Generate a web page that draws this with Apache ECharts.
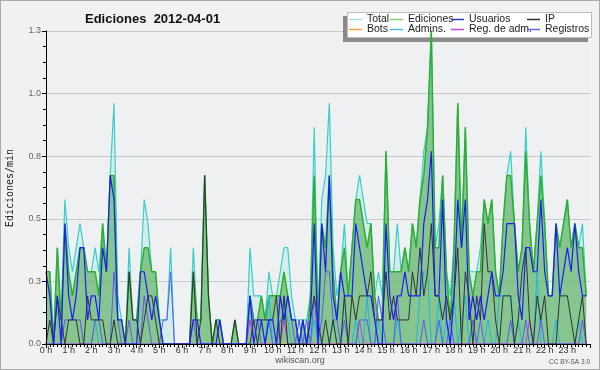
<!DOCTYPE html>
<html><head><meta charset="utf-8">
<script src="https://cdn.jsdelivr.net/npm/echarts@6/dist/echarts.min.js"></script>
<style>html,body{margin:0;padding:0;background:#f1f1f1}#c{width:600px;height:370px}</style>
</head><body><div id="c"></div>
<script>
// 10-minute slots, values in edits per minute
const slotMinutes = 10;
const hourTicks = 60;
const total = [
0.3,0.3,0,0.4,0.1,0.6, 0.4,0.3,0.4,0.5,0.4,0.3, 0.3,0.4,0.3,0.5,0.3,0.7, 1.0,0.2,0.1,0,0.4,0.1,
0.1,0.3,0.6,0.5,0.3,0.3, 0.1,0.1,0.1,0.4,0,0, 0,0,0,0.4,0.1,0.1, 0.7,0.2,0,0.1,0.1,0,
0,0,0.1,0,0,0, 0.4,0.2,0.2,0.2,0.1,0.3, 0.2,0.2,0.3,0.4,0.4,0.2, 0.1,0.1,0.1,0.1,0.2,0.9,
0.1,0.6,0.7,1.0,0.4,0.2, 0.3,0.5,0.2,0.4,0.6,0.7, 0.6,0.5,0.5,0.2,0.3,0.2, 0.8,0.3,0.3,0.5,0.3,0.4,
0.3,0.5,0.4,0.6,0.8,0.9, 1.3,0.4,0.5,0.7,0.3,0.2, 0.4,1.0,0.4,0.9,0.3,0.3, 0.3,0.4,0.6,0.5,0.6,0.3,
0.2,0.5,0.7,0.8,0.5,0.3, 0.4,0.9,0.5,0.3,0.5,0.8, 0.5,0.2,0.2,0.5,0.4,0.5, 0.6,0.4,0.5,0.4,0.5,0.2];
const ediciones = [
0.3,0.3,0,0.4,0.1,0.5, 0.3,0.2,0.3,0.4,0.4,0.3, 0.3,0.3,0.2,0.5,0.3,0.7, 0.7,0.1,0.1,0,0.3,0.1,
0.1,0.3,0.4,0.4,0.3,0.3, 0.1,0,0,0,0,0, 0,0,0,0.3,0.1,0.1, 0.7,0.2,0,0.1,0.1,0,
0,0,0.1,0,0,0, 0.2,0.1,0.1,0.2,0.1,0.2, 0.2,0.2,0.2,0.3,0.2,0.1, 0.1,0,0.1,0,0.2,0.7,
0.1,0.5,0.4,0.7,0.3,0.1, 0.3,0.4,0.2,0.4,0.6,0.6, 0.5,0.4,0.5,0.2,0.1,0.1, 0.8,0.3,0.3,0.3,0.3,0.4,
0.3,0.5,0.4,0.6,0.7,0.9, 1.3,0.4,0.4,0.7,0.3,0.1, 0.4,1.0,0.4,0.9,0.3,0.2, 0.3,0.3,0.6,0.5,0.6,0.3,
0.2,0.5,0.7,0.7,0.5,0.3, 0.4,0.8,0.5,0.3,0.5,0.7, 0.5,0.2,0.2,0.5,0.4,0.5, 0.6,0.4,0.5,0.4,0.4,0.2];
const usuarios = [
0.3,0.2,0,0.2,0,0.5, 0.2,0.1,0.2,0.4,0.4,0.1, 0.2,0.2,0.1,0.4,0.3,0.7, 0.6,0.1,0.1,0,0,0,
0,0.3,0.3,0.2,0.1,0.2, 0.1,0,0,0,0,0, 0,0,0,0.1,0.1,0, 0,0,0,0,0.1,0,
0,0,0,0,0,0, 0.2,0,0.1,0.1,0,0.1, 0.1,0,0.2,0.1,0.2,0.1, 0.1,0,0.1,0,0.1,0.5,
0,0.5,0.3,0.7,0.2,0.1, 0.3,0.2,0.2,0.2,0.5,0.4, 0.3,0.2,0.2,0.1,0,0, 0.5,0.2,0.1,0.2,0.2,0.3,
0.2,0.2,0.2,0.2,0.5,0.6, 0.8,0.2,0.2,0.6,0.1,0, 0.2,0.6,0.4,0.6,0.1,0.2, 0.1,0.2,0.1,0.2,0.3,0.2,
0.2,0.3,0.5,0.5,0.5,0.2, 0.1,0.4,0.4,0.3,0.3,0.6, 0.3,0.2,0.2,0.5,0.2,0.3, 0.4,0.3,0.5,0.3,0.2,0.2];
const ip = [
0,0.1,0,0.2,0.1,0, 0.1,0.1,0.1,0,0,0.2, 0.1,0.1,0.1,0.1,0,0, 0.1,0,0,0,0.3,0.1,
0.1,0,0.1,0.2,0.2,0.1, 0,0,0,0,0,0, 0,0,0,0.3,0,0.1, 0.7,0.2,0,0.1,0,0,
0,0,0.1,0,0,0, 0,0.1,0,0.1,0.1,0.1, 0.1,0.2,0,0.2,0,0, 0,0,0,0,0.1,0.2,
0.1,0,0.1,0,0.1,0, 0,0.2,0,0.2,0.1,0.2, 0.2,0.2,0.3,0.1,0.1,0.1, 0.3,0.1,0.2,0.1,0.1,0.1,
0.1,0.3,0.2,0.4,0.2,0.3, 0.5,0.2,0.2,0.1,0.2,0.1, 0.2,0.4,0,0.3,0.2,0, 0.2,0.1,0.5,0.3,0.3,0.1,
0,0.2,0.2,0.2,0,0.1, 0.3,0.4,0.1,0,0.2,0.1, 0.2,0,0,0,0.2,0.2, 0.2,0.1,0,0.1,0.2,0];
const bots = new Array(144).fill(0);
const admins = [
0,0,0,0,0,0, 0,0,0,0,0,0, 0,0.1,0,0,0,0, 0,0,0,0,0,0,
0,0,0,0,0,0, 0,0,0,0,0,0, 0,0,0,0,0,0, 0,0,0,0,0,0,
0,0,0,0,0,0, 0,0,0,0.1,0,0.2, 0,0,0,0.2,0.1,0, 0,0,0,0,0,0.1,
0,0,0,0,0.1,0, 0,0.2,0,0,0.1,0, 0,0.2,0,0,0.1,0, 0,0,0,0.1,0,0,
0,0,0,0.2,0.3,0.3, 0,0,0.2,0,0.1,0, 0.2,0,0.1,0.2,0,0.1, 0,0,0,0.1,0,0,
0.2,0.2,0.2,0.2,0,0.1, 0,0,0,0,0.3,0, 0,0,0,0.1,0,0, 0,0,0,0.1,0,0];
const regAdm = [
0,0,0,0,0,0, 0,0,0,0,0,0, 0,0,0,0,0,0, 0,0,0,0,0,0,
0,0,0,0,0,0, 0,0,0,0,0,0, 0,0,0,0,0,0, 0,0,0,0,0,0,
0,0,0,0,0,0, 0.1,0,0,0,0,0, 0,0,0,0.1,0,0, 0,0,0,0,0,0,
0,0,0,0,0,0, 0,0,0,0,0,0.1, 0,0,0,0,0,0, 0,0,0,0,0,0,
0,0,0,0,0,0, 0,0,0,0,0,0, 0,0,0,0,0,0, 0,0,0,0,0,0,
0,0,0,0,0,0, 0,0,0.1,0,0,0, 0,0,0,0,0,0, 0,0,0,0,0,0];
const registros = [
0,0,0,0,0,0.1, 0.1,0.1,0.1,0.1,0,0, 0,0.1,0.1,0,0,0, 0.3,0.1,0,0,0.1,0,
0,0,0.2,0.1,0,0, 0,0.1,0.1,0.3,0,0, 0,0,0,0.1,0,0, 0,0,0,0,0,0,
0,0,0,0,0,0, 0.2,0.1,0.1,0,0,0.1, 0,0,0.1,0.1,0.2,0.1, 0,0.1,0,0.1,0,0.2,
0,0.1,0.3,0.3,0.1,0.1, 0,0.1,0,0,0,0.1, 0.1,0.1,0,0,0.2,0.1, 0,0,0,0.2,0,0,
0,0,0,0,0.1,0, 0,0,0.1,0,0,0.1, 0,0,0,0,0,0.1, 0,0.1,0,0,0,0,
0,0,0,0.1,0,0, 0,0.1,0,0,0,0.1, 0,0,0,0,0,0, 0,0,0,0,0.1,0];

const toXY = arr => arr.map((v, i) => [i * slotMinutes, v]);
const FONT = 'Liberation Sans';

const seriesDefs = [
  {name:'Total', data:total, color:'#38cfcb', legend:'#9fe0dc', width:1.2, area:'rgba(170,230,222,0.38)'},
  {name:'Ediciones', data:ediciones, color:'#2fae2f', legend:'#7fcf7f', width:1.5, area:'rgba(70,165,70,0.55)'},
  {name:'Bots', data:bots, color:'#f0a030', legend:'#f4a040', width:1},
  {name:'Admins.', data:admins, color:'#1fb8d8', legend:'#40c4d8', width:1},
  {name:'Reg. de adm.', data:regAdm, color:'#c43ce0', legend:'#cc44dd', width:1},
  {name:'Registros', data:registros, color:'#5a5af0', legend:'#6464ee', width:1},
  {name:'IP', data:ip, color:'#333333', legend:'#333333', width:1},
  {name:'Usuarios', data:usuarios, color:'#1c1cf5', legend:'#3030d0', width:1.2}
];

const series = seriesDefs.map(d => ({
  name: d.name, type: 'line', data: toXY(d.data), showSymbol: false, symbol: 'none',
  lineStyle: {color: d.color, width: d.width}, itemStyle: {color: d.color},
  areaStyle: d.area ? {color: d.area, opacity: 1} : undefined,
  z: 2, animation: false, silent: true
}));

const legendLayout = [
  ['Total', 349, 14], ['Ediciones', 390, 14], ['Usuarios', 451, 14], ['IP', 527, 14],
  ['Bots', 349, 24], ['Admins.', 390, 24], ['Reg. de adm.', 451, 24], ['Registros', 527, 24]
];
const legend = legendLayout.map(([name, left, top]) => {
  const d = seriesDefs.find(s => s.name === name);
  return {
    data: [{name, icon: 'rect', itemStyle: {color: d.legend}}],
    left, top, padding: 0, itemWidth: 13, itemHeight: 1.5, itemGap: 0,
    selectedMode: false, z: 4,
    textStyle: {fontFamily: FONT, fontSize: 10.5, color: '#222', padding: [0,0,0,0]}
  };
});

const chart = echarts.init(document.getElementById('c'), null, {renderer: 'canvas'});
chart.setOption({
  backgroundColor: '#f1f1f1',
  animation: false,
  title: {text: 'Ediciones  2012-04-01', left: 80, top: 8,
    textStyle: {fontFamily: FONT, fontSize: 13, fontWeight: 'bold', color: '#111'}},
  legend,
  grid: {left: 46, right: 10, top: 31, bottom: 26, show: true, backgroundColor: '#eef0f2', borderWidth: 0},
  xAxis: {
    type: 'value', min: 0, max: 1440, interval: hourTicks, z: 3,
    axisLine: {show: true, onZero: false, lineStyle: {color: '#000', width: 1}},
    axisTick: {show: true, length: 4, lineStyle: {color: '#000'}},
    minorTick: {show: true, splitNumber: 6, length: 3, lineStyle: {color: '#000'}},
    splitLine: {show: false},
    axisLabel: {margin: 2, fontFamily: FONT, fontSize: 9, color: '#333',
      formatter: v => v >= 1440 ? '' : (v / 60) + ' h'}
  },
  yAxis: [{
    type: 'value', min: 0, max: 1.3, interval: 0.26, z: 3,
    axisLine: {show: true, lineStyle: {color: '#000', width: 1}},
    axisTick: {show: true, length: 4, lineStyle: {color: '#000'}},
    minorTick: {show: true, splitNumber: 4, length: 3, lineStyle: {color: '#000'}},
    splitLine: {show: false},
    axisLabel: {margin: 5, fontFamily: FONT, fontSize: 9, color: '#666', formatter: v => v.toFixed(1)}
  }, {
    type: 'value', min: 0, max: 1.3, interval: 0.26, z: 0, position: 'left',
    axisLine: {show: false}, axisTick: {show: false}, axisLabel: {show: false},
    splitLine: {show: true, lineStyle: {color: '#c9c9c9', width: 1}}
  }],
  series,
  graphic: [
    {type: 'rect', z: 1, silent: true, shape: {x: 343, y: 16, width: 245, height: 26}, style: {fill: '#8a8a8a'}},
    {type: 'rect', z: 1, silent: true, shape: {x: 347.5, y: 12.5, width: 244, height: 25}, style: {fill: '#ffffff', stroke: '#bdbdbd', lineWidth: 1}},
    {type: 'text', z: 5, silent: true, x: 10, y: 188, rotation: Math.PI / 2,
      style: {text: 'Ediciones/min', font: '10px "DejaVu Sans Mono"', fill: '#222', align: 'center', verticalAlign: 'middle'}},
    {type: 'text', z: 5, silent: true, x: 300, y: 361,
      style: {text: 'wikiscan.org', font: '9px "Liberation Sans"', fill: '#555', align: 'center', verticalAlign: 'middle'}},
    {type: 'text', z: 5, silent: true, x: 590, y: 362,
      style: {text: 'CC BY-SA 3.0', font: '6.5px "Liberation Sans"', fill: '#555', align: 'right', verticalAlign: 'middle'}},
    {type: 'rect', z: 6, silent: true, shape: {x: 0.5, y: 0.5, width: 599, height: 369}, style: {fill: null, stroke: '#aaaaaa', lineWidth: 1}}
  ]
});
</script></body></html>
